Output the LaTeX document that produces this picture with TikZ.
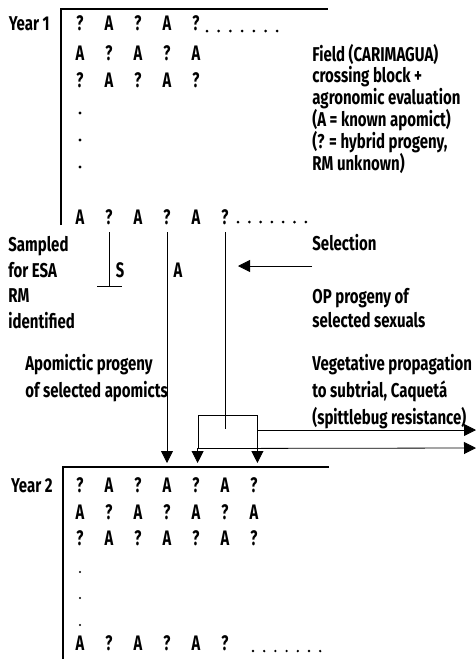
\documentclass[tikz,border=0pt]{standalone}
\usepackage{fontspec}
\setmainfont{Fira Sans}[FakeStretch=0.75]
\newfontfamily\gridfont{Fira Sans}[FakeStretch=0.7]
\usetikzlibrary{arrows.meta}

\tikzset{
    lbl/.style={anchor=base west, align=left, inner sep=0, font=\bfseries\fontsize{20}{22}\selectfont},
    cell/.style={anchor=base, inner sep=0, font=\gridfont\bfseries\fontsize{21}{22}\selectfont},
    frame/.style={line width=1.2pt},
}

\begin{document}
\begin{tikzpicture}[x=1pt, y=-1pt, line width=0.8pt, >={Triangle[length=12pt,width=12pt]}]
        \useasboundingbox (0,0) rectangle (476,659);

        % year 1 crossing block
        \draw [frame] (61,225) -- (61,9) -- (328,9);
        \node [lbl, anchor=base east] (year1) at (50,30) {Year 1};
        \foreach \r/\yy/\n in {1/30/5, 2/60/5, 3/87/5, 4/224/6}
        {
            \foreach \c in {1,...,\n}
            {
                \node [cell] (yra-\r-\c) at ({80+29*(\c-1)},\yy) {\ifodd\numexpr\r+\c\relax A\else ?\fi};
            }
        }
        \foreach \k in {0,...,6}
        {
            \fill ({207+11.7*\k},31) circle (1.5);
            \fill ({238+11.3*\k},222) circle (1.5);
        }
        \foreach \yy in {113, 140, 167}
        {
            \fill (80,\yy) circle (1.7);
        }

        % multi-line labels sit on the baseline of their last line
        \node [lbl, font=\bfseries\fontsize{20}{21.8}\selectfont] (field) at (312,170)
            {Field (CARIMAGUA)\\crossing block +\\agronomic evaluation\\(A = known apomict)\\(? = hybrid progeny,\\RM unknown)};

        % selection between the years
        \node [lbl, font=\bfseries\fontsize{20}{25.5}\selectfont] (sampled) at (8,328) {Sampled\\for ESA\\RM\\identified};
        \node [cell] (sexual) at (120,277) {S};
        \node [cell] (apomict) at (178,277) {A};
        \node [lbl] (selection) at (312,250) {Selection};
        \node [lbl, font=\bfseries\fontsize{20}{24}\selectfont] (opprog) at (312,327) {OP progeny of\\selected sexuals};
        \node [lbl, font=\bfseries\fontsize{20}{27}\selectfont] (apoprog) at (25,397) {Apomictic progeny\\of selected apomicts};
        \node [lbl, font=\bfseries\fontsize{20}{27}\selectfont] (vegprop) at (312,424)
            {Vegetative propagation\\to subtrial, Caquet\'a\\(spittlebug resistance)};

        \coordinate (esa) at (109,286);
        \coordinate (selfrom) at (312,266);
        \coordinate (selto) at (238,266);
        \coordinate (arrowend) at (63,463);
        \coordinate (caqueta1) at (476,430);
        \coordinate (caqueta2) at (476,448);

        \draw ([yshift=-8pt]yra-4-2.base) -- (esa);
        \draw ([xshift=-12pt]esa) -- ([xshift=13pt]esa);
        \draw [->] ([yshift=-8pt]yra-4-4.base) -- (yra-4-4.base |- arrowend);
        \draw ([yshift=-8pt]yra-4-6.base) -- ++(0,197);
        \draw [->] (selfrom) -- (selto);

        \node [draw, minimum width=59pt, minimum height=33pt, inner sep=0] (veg) at (227.5,431.5) {};
        \draw [->] (veg.south west) -- (veg.south west |- arrowend);
        \draw [->] (veg.south east) -- (veg.south east |- arrowend);
        \draw [->] (veg.east |- caqueta1) -- (caqueta1);
        \draw [->] (veg.south east) -- (caqueta2);

        % year 2
        \draw [frame] (329,467) -- (63,467) -- (63,659);
        \node [lbl, anchor=base east] (year2) at (53,492) {Year 2};
        \foreach \r/\yy/\n in {1/492/7, 2/519/7, 3/545/7, 4/650/6}
        {
            \foreach \c in {1,...,\n}
            {
                \node [cell] (yrb-\r-\c) at ({80+29*(\c-1)},\yy) {\ifodd\numexpr\r+\c\relax A\else ?\fi};
            }
        }
        \foreach \k in {0,...,6}
        {
            \fill ({253+11.2*\k},651) circle (1.3);
        }
        \foreach \yy in {572, 598, 625}
        {
            \fill (80,\yy) circle (1.1);
        }
    \end{tikzpicture}
\end{document}
